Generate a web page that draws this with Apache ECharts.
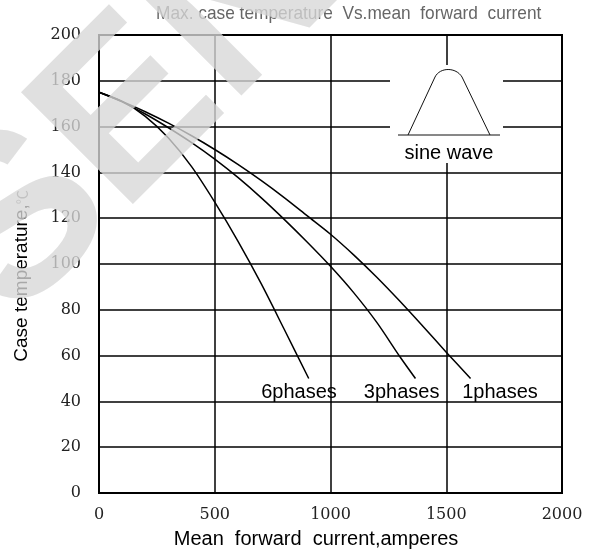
<!DOCTYPE html>
<html>
<head>
<meta charset="utf-8">
<script src="https://cdn.jsdelivr.net/npm/echarts@6/dist/echarts.min.js"></script>
<style>html,body{margin:0;padding:0;background:#fff}#c{width:594px;height:555px}</style>
</head>
<body>
<div id="c"></div>
<script>
// ---- data ----
var xTicks = [0, 500, 1000, 1500, 2000];
var yTicks = [0, 20, 40, 60, 80, 100, 120, 140, 160, 180, 200];
var phase6 = [[0,175],[100,171],[200,164.5],[300,155],[400,142.5],[500,127],[600,110],[700,91.5],[800,71.5],[906,50]];
var phase3 = [[0,175],[100,170.8],[200,165.5],[300,159.5],[400,153],[500,145.8],[600,137.8],[700,129],[800,119.5],[900,109.5],[1000,99],[1100,87.5],[1200,74.5],[1300,59.5],[1367,50]];
var phase1 = [[0,175],[100,171],[200,166.5],[300,161.5],[400,156],[500,150],[600,143.5],[700,136.5],[800,129],[900,121],[1000,113],[1100,104],[1200,94.2],[1300,83.7],[1400,72.7],[1500,61.5],[1605,50]];
var seriesNames = ['6phases', '3phases', '1phases'];
var labelCoords = [[864,44],[1307,44],[1732,44]];

var chart = echarts.init(document.getElementById('c'));
var lineStyle = {color:'#000', width:1.5};
function mkSeries(name, data, lc){
  return {
    name: name, type:'line', data: data, symbol:'none', smooth:0.3,
    lineStyle: lineStyle, z: 3,
    markPoint: {symbol:'circle', symbolSize:0, data:[{coord: lc, value: name}],
      label:{show:true, formatter: name, color:'#000', fontFamily:'Liberation Sans', fontSize:20, position:'inside'}}
  };
}
chart.setOption({
  animation:false,
  backgroundColor:'#fff',
  grid:{left:99, right:32, top:35, bottom:62, show:true, borderColor:'#000', borderWidth:2},
  xAxis:{type:'value', min:xTicks[0], max:xTicks[xTicks.length-1], interval:500,
    axisLine:{lineStyle:{color:'#000', width:2}}, axisTick:{show:false},
    axisLabel:{fontFamily:'DejaVu Serif', fontSize:16, color:'#222', margin:14, formatter:function(v){return String(v);}},
    splitLine:{lineStyle:{color:'#000', width:1.5}}},
  yAxis:{type:'value', min:yTicks[0], max:yTicks[yTicks.length-1], interval:20,
    axisLine:{lineStyle:{color:'#000', width:2}}, axisTick:{show:false},
    axisLabel:{fontFamily:'DejaVu Serif', fontSize:16, color:'#222', margin:18, formatter:function(v){return String(v);}},
    splitLine:{lineStyle:{color:'#000', width:1.5}}},
  series:[mkSeries(seriesNames[0], phase6, labelCoords[0]), mkSeries(seriesNames[1], phase3, labelCoords[1]), mkSeries(seriesNames[2], phase1, labelCoords[2])],
  graphic:[
    {type:'text', z:51, x:156, y:14, scaleX:0.91,
      style:{text:'Max. case temperature  Vs.mean  forward  current', fontFamily:'Liberation Sans', fontSize:19, fill:'#666', align:'left', verticalAlign:'middle'}},
    {type:'rect', z:50, shape:{x:390, y:65, width:113, height:98}, style:{fill:'#fff'}},
    {type:'polyline', z:51, shape:{points:[[408,135],[435,77]]}, style:{fill:null, stroke:'#111', lineWidth:1}},
    {type:'bezierCurve', z:51, shape:{x1:435, y1:77, cpx1:440, cpy1:67, cpx2:456, cpy2:67, x2:462, y2:77}, style:{fill:null, stroke:'#111', lineWidth:1}},
    {type:'polyline', z:51, shape:{points:[[462,77],[490,135]]}, style:{fill:null, stroke:'#111', lineWidth:1}},
    {type:'line', z:51, shape:{x1:398, y1:135, x2:500, y2:135}, style:{stroke:'#111', lineWidth:1}},
    {type:'text', z:51, x:449, y:153, style:{text:'sine wave', fontFamily:'Liberation Sans', fontSize:20, fill:'#000', align:'center', verticalAlign:'middle'}},
    {type:'text', z:51, x:22, y:276, rotation:Math.PI/2,
      style:{text:'{a|Case temperature,}{b|℃}', align:'center', verticalAlign:'middle',
        rich:{a:{fontFamily:'Liberation Sans', fontSize:19, fill:'#000'}, b:{fontFamily:'Noto Sans CJK SC', fontSize:14, fill:'#777'}}}},
    {type:'text', z:51, x:316, y:539, style:{text:'Mean  forward  current,amperes', fontFamily:'Liberation Sans', fontSize:20, fill:'#000', align:'center', verticalAlign:'middle'}},
    {type:'text', z:200, x:50, y:360, rotation:45*Math.PI/180, silent:true,
      style:{text:'SEN', fontFamily:'Liberation Sans', fontWeight:'bold', fontSize:230, fill:'rgba(215,215,215,0.78)', align:'left', verticalAlign:'bottom'}}
  ]
});
</script>
</body>
</html>
